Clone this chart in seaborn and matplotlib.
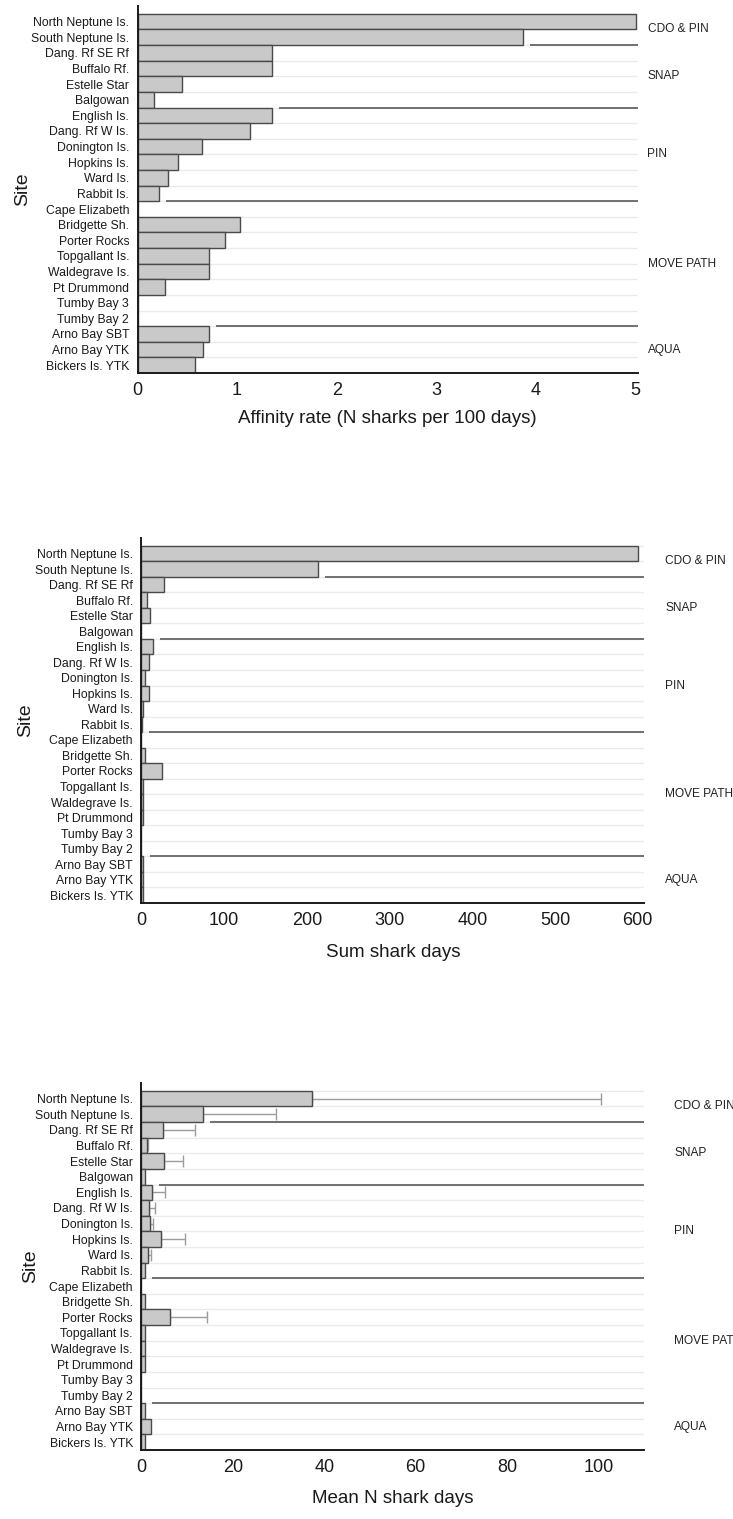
import numpy as np
import pandas as pd
import matplotlib
matplotlib.use("Agg")
import matplotlib.pyplot as plt
import matplotlib.transforms as mtransforms
import seaborn as sns

sns.set_style("white")
plt.rcParams["font.family"] = ["Liberation Sans", "DejaVu Sans"]

# ---- data -----------------------------------------------------------------
sites = [
    "North Neptune Is.", "South Neptune Is.", "Dang. Rf SE Rf", "Buffalo Rf.",
    "Estelle Star", "Balgowan", "English Is.", "Dang. Rf W Is.", "Donington Is.",
    "Hopkins Is.", "Ward Is.", "Rabbit Is.", "Cape Elizabeth", "Bridgette Sh.",
    "Porter Rocks", "Topgallant Is.", "Waldegrave Is.", "Pt Drummond",
    "Tumby Bay 3", "Tumby Bay 2", "Arno Bay SBT", "Arno Bay YTK", "Bickers Is. YTK",
]

affinity_rate = [5.0, 3.87, 1.35, 1.35, 0.45, 0.17, 1.35, 1.13, 0.65, 0.41, 0.31,
                 0.22, 0.0, 1.03, 0.875, 0.72, 0.72, 0.28, 0.0, 0.0, 0.72, 0.66, 0.58]

sum_shark_days = [600, 214, 28, 7, 10, 0, 14, 9, 5, 9, 2, 1, 0, 4, 24.5, 2, 2, 2,
                  0, 0, 2, 2, 2]

mean_shark_days = [37.4, 13.4, 4.7, 1.3, 5.0, 0.9, 2.4, 1.65, 1.95, 4.4, 1.45, 0.9,
                   0.0, 0.8, 6.3, 0.8, 0.8, 0.9, 0.0, 0.0, 0.9, 2.05, 0.9]
sd_shark_days = [63.1, 16.0, 7.1, 0.2, 4.2, 0.0, 2.8, 1.4, 0.7, 5.1, 0.65, 0.0,
                 0.0, 0.0, 8.1, 0.0, 0.0, 0.0, 0.0, 0.0, 0.0, 0.0, 0.0]

group_names = ["CDO & PIN", "SNAP", "PIN", "MOVE PATH", "AQUA"]
group_sizes = [2, 4, 6, 8, 3]

# ---- layout ---------------------------------------------------------------
W, H = 733, 1519
fig = plt.figure(figsize=(W / 100, H / 100), dpi=100)

panels = [
    dict(vals=affinity_rate, err=None, xmax=5.02, ticks=np.arange(0, 6, 1),
         minor=np.arange(0.5, 5.0, 1), xlabel="Affinity rate (N sharks per 100 days)",
         box=(137.5, 637.5, 6, 373), label_dx=10, ylab_x=31, labelpad=8),
    dict(vals=sum_shark_days, err=None, xmax=608, ticks=np.arange(0, 700, 100),
         minor=np.arange(50, 600, 100), xlabel="Sum shark days",
         box=(141.3, 644.4, 538, 903), label_dx=21, ylab_x=34, labelpad=11),
    dict(vals=mean_shark_days, err=sd_shark_days, xmax=110, ticks=np.arange(0, 120, 20),
         minor=np.arange(10, 110, 20), xlabel="Mean N shark days",
         box=(141.3, 644.4, 1083, 1450), label_dx=30, ylab_x=39, labelpad=10),
]

n = len(sites)
pos = np.arange(n)
bounds = np.arange(n + 1) - 0.5
group_edges = np.cumsum(group_sizes)[:-1] - 0.5
group_starts = np.concatenate([[0], np.cumsum(group_sizes)[:-1]])
group_centres = group_starts + (np.array(group_sizes) - 1) / 2

for p in panels:
    l, r, t, b = p["box"]
    ax = fig.add_axes([l / W, 1 - b / H, (r - l) / W, (b - t) / H])
    df = pd.DataFrame({"site": sites, "value": p["vals"]})

    # faint row dividers behind the bars
    ax.hlines(bounds, 0, p["xmax"], color="#ebebeb", lw=1.0, zorder=0)

    sns.barplot(data=df, x="value", y="site", order=sites, orient="h",
                color="#c9c9c9", saturation=1, edgecolor="#4a4a4a", linewidth=1.0,
                width=1.0, errorbar=None, ax=ax, zorder=2)

    if p["err"] is not None:
        m = np.array(p["vals"])
        e = np.array(p["err"])
        keep = e > 0
        ax.errorbar(m[keep], pos[keep], xerr=[np.zeros(keep.sum()), e[keep]],
                    fmt="none", ecolor="#9c9c9c", elinewidth=1.0, capsize=4,
                    capthick=1.0, zorder=1.5)

    ax.set_xlim(0, p["xmax"])
    ax.set_ylim(n - 0.5, -1.0)

    # group separators start a little past the longer neighbouring bar
    axw = r - l
    gap = 7 / axw * p["xmax"]
    vals = np.array(p["vals"])
    for edge in group_edges:
        i = int(edge + 0.5)
        start = max(vals[i - 1], vals[i]) + gap
        ax.plot([start, p["xmax"]], [edge, edge], color="#707070", lw=1.4,
                zorder=3, solid_capstyle="butt", clip_on=False)

    # group names to the right of the plot
    trans = mtransforms.blended_transform_factory(ax.transAxes, ax.transData)
    for name, c in zip(group_names, group_centres):
        ax.text(1 + p["label_dx"] / axw, c, name, transform=trans, ha="left",
                va="center", fontsize=8.6, color="#222222", clip_on=False)

    # axes styling
    for s in ["top", "right"]:
        ax.spines[s].set_visible(False)
    for s in ["left", "bottom"]:
        ax.spines[s].set_color("#1a1a1a")
        ax.spines[s].set_linewidth(1.4)

    ax.set_yticks(pos)
    ax.set_yticklabels(sites)
    ax.set_yticks(bounds, minor=True)
    ax.tick_params(axis="y", which="major", length=0, pad=6, labelsize=8.8,
                   labelcolor="#1a1a1a")
    ax.tick_params(axis="y", which="minor", direction="inout", length=5.5,
                   width=1.1, color="#1a1a1a")

    ax.set_xticks(p["ticks"])
    ax.set_xticks(p["minor"], minor=True)
    ax.tick_params(axis="x", which="major", direction="out", length=3.5, width=1.0,
                   color="#1a1a1a", pad=3, labelsize=13, labelcolor="#1a1a1a")
    ax.tick_params(axis="x", which="minor", direction="out", length=2.5, width=0.9,
                   color="#1a1a1a")

    ax.set_xlabel(p["xlabel"], fontsize=13.5, color="#1a1a1a", labelpad=p["labelpad"])
    ax.set_ylabel("Site", fontsize=14, color="#1a1a1a")
    ax.yaxis.set_label_coords((p["ylab_x"] - l) / axw, 0.5)

fig.savefig("out.png", dpi=100)
